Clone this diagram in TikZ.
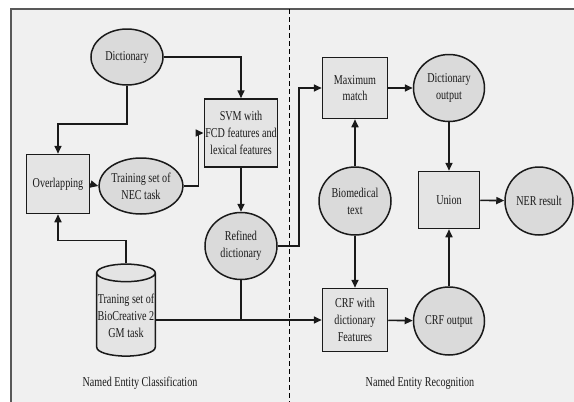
\documentclass[tikz,border=0pt]{standalone}
\usepackage{fontspec}
\setmainfont{Liberation Serif}[FakeStretch=0.75]
\usetikzlibrary{shapes.geometric,arrows.meta}
\definecolor{bgcol}{HTML}{F0F0F0}
\definecolor{boxcol}{HTML}{E4E4E4}
\definecolor{ovalcol}{HTML}{DADADA}
\definecolor{inkcol}{HTML}{1A1A1A}
\begin{document}
\begin{tikzpicture}[
  x=1pt, y=-1pt,
  box/.style={rectangle, draw=inkcol, line width=1.5pt, fill=boxcol, align=center, inner sep=1pt},
  oval/.style={ellipse, draw=inkcol, line width=1.5pt, fill=ovalcol, align=center, inner sep=0pt, minimum width=72pt, minimum height=68pt},
  store/.style={cylinder, shape border rotate=90, draw=inkcol, line width=1.5pt, fill=boxcol, align=center, aspect=0.3, minimum width=57pt, minimum height=92pt, inner sep=1pt},
  link/.style={line width=1.6pt, draw=inkcol},
  >={Triangle[length=8pt,width=7pt]},
  font=\fontsize{13.5}{16.8}\selectfont,
  text=inkcol
]
\useasboundingbox (0,0) rectangle (574,402);
\fill[white] (0,0) rectangle (574,402);
\fill[bgcol] (11,9) rectangle (574,402);
\draw[line width=1.6pt, draw=black!65] (11,402) -- (11,9) -- (574,9);
\draw[dashed, line width=0.8pt, dash pattern=on 5pt off 3pt] (289,9) -- (289,402);

\node[oval, minimum height=56pt] (dict) at (127,57) {Dictionary};
\node[box, minimum width=72pt, minimum height=68pt] (svm) at (241,133) {SVM with\\FCD features and\\lexical features};
\node[box, minimum width=63pt, minimum height=59pt] (overlap) at (58,184) {Overlapping};
\node[oval, minimum height=56pt] (nec) at (141,186) {Training set of\\NEC task};
\node[oval, minimum height=67pt] (refined) at (241,246) {Refined\\dictionary};
\node[store] (gm) at (126,316) {Traning set of\\BioCreative 2\\GM task};

\node[box, minimum width=65pt, minimum height=61pt] (maxm) at (355,88) {Maximum\\match};
\node[oval, minimum width=71pt, minimum height=67pt] (dictout) at (449,88) {Dictionary\\output};
\node[oval] (bio) at (355,201) {Biomedical\\text};
\node[box, minimum width=61pt, minimum height=57pt] (union) at (449,200) {Union};
\node[oval, minimum width=68pt] (ner) at (539,201) {NER result};
\node[box, minimum width=65pt, minimum height=63pt] (crf) at (355,320) {CRF with\\dictionary\\Features};
\node[oval, minimum width=71pt] (crfout) at (449,321) {CRF output};

\node (nec-label) at (140,383) {Named Entity Classification};
\node (ner-label) at (420,383) {Named Entity Recognition};

\draw[link,->] (dict.east) -| (svm.north);
\draw[link,->] (dict.south) -- ++(0,38) -| (overlap.north);
\draw[link,->] (overlap.east) -- (nec.west);
\draw[link,->] (nec.east) -- ++(15,0) |- (svm.west);
\draw[link,->] (svm) -- (refined);
\draw[link,->] (refined.east) -- ++(21,0) |- (maxm.west);
\draw[link,->] (gm.north) -- ++(0,-23) -| (overlap.south);
\draw[link,->] (gm.east |- crf.west) -- (crf.west);
\draw[link] (refined.south) -- (refined.south |- crf.west);
\draw[link,->] (maxm) -- (dictout);
\draw[link,->] (bio) -- (maxm);
\draw[link,->] (bio) -- (crf);
\draw[link,->] (dictout) -- (union);
\draw[link,->] (union) -- (ner);
\draw[link,->] (crf) -- (crfout);
\draw[link,->] (crfout) -- (union);
\end{tikzpicture}
\end{document}
